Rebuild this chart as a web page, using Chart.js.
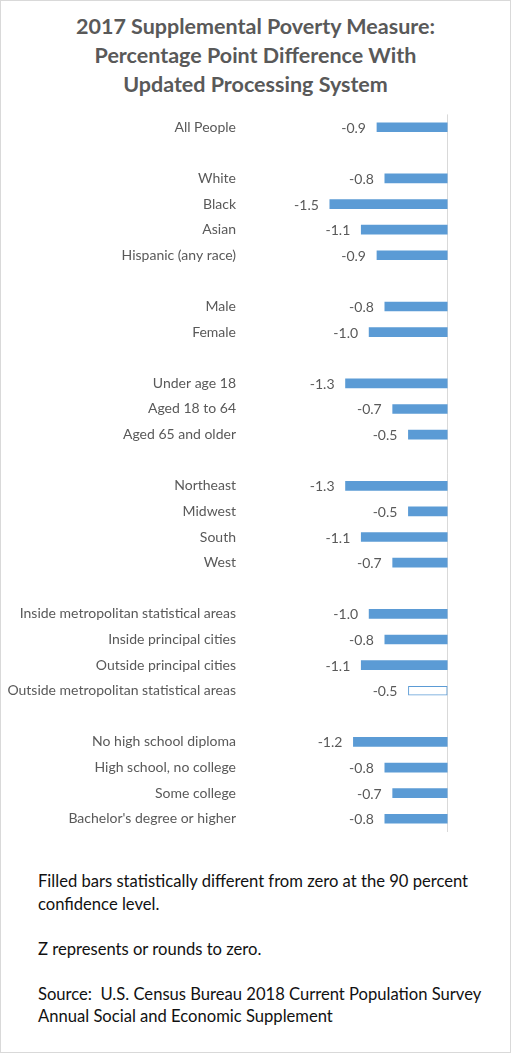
<!DOCTYPE html>
<html>
<head>
<meta charset="utf-8">
<script src="https://cdn.jsdelivr.net/npm/chart.js@4.4.1/dist/chart.umd.min.js"></script>
<style>
  body { margin: 0; background: #fff; }
  #wrap { position: relative; width: 511px; height: 1053px; box-sizing: border-box; border: 1px solid #d9d9d9; overflow: hidden; }
  #title { position: absolute; left: 0; top: 11px; width: 509px; text-align: center; font: bold 21.5px Lato, sans-serif; line-height: 29px; color: #595959; }
  #box { position: absolute; left: 0; top: 100px; width: 509px; height: 744px; }
  #notes { position: absolute; left: 37px; top: 869px; width: 456px; font: 16.6px Lato, sans-serif; line-height: 22.5px; color: #111; }
  #notes p { margin: 0 0 22.5px 0; }
</style>
</head>
<body>
<div id="wrap">
  <div id="title">2017 Supplemental Poverty Measure:<br>Percentage Point Difference With<br>Updated Processing System</div>
  <div id="box"><canvas id="chart"></canvas></div>
  <div id="notes">
    <p>Filled bars statistically different from zero at the 90 percent confidence level.</p>
    <p>Z represents or rounds to zero.</p>
    <p>Source:&nbsp; U.S. Census Bureau 2018 Current Population Survey Annual Social and Economic Supplement</p>
  </div>
</div>
<script>
// rows, blank strings are the gaps between groups
const categories = [
  'All People', '',
  'White', 'Black', 'Asian', 'Hispanic (any race)', '',
  'Male', 'Female', '',
  'Under age 18', 'Aged 18 to 64', 'Aged 65 and older', '',
  'Northeast', 'Midwest', 'South', 'West', '',
  'Inside metropolitan statistical areas', 'Inside principal cities', 'Outside principal cities', 'Outside metropolitan statistical areas', '',
  'No high school diploma', 'High school, no college', 'Some college', "Bachelor's degree or higher"
];
const diffs = [
  -0.9, null,
  -0.8, -1.5, -1.1, -0.9, null,
  -0.8, -1.0, null,
  -1.3, -0.7, -0.5, null,
  -1.3, -0.5, -1.1, -0.7, null,
  -1.0, -0.8, -1.1, -0.5, null,
  -1.2, -0.8, -0.7, -0.8
];
// false = not statistically different from zero (hollow bar)
const significant = [
  true, null,
  true, true, true, true, null,
  true, true, null,
  true, true, true, null,
  true, true, true, true, null,
  true, true, true, false, null,
  true, true, true, true
];

const blue = '#5b9bd5';

// value labels to the left of each bar
const valueLabels = {
  id: 'valueLabels',
  afterDatasetsDraw(chart) {
    const ctx = chart.ctx;
    const meta = chart.getDatasetMeta(0);
    ctx.save();
    ctx.font = '14px Lato, sans-serif';
    ctx.fillStyle = '#595959';
    ctx.textAlign = 'right';
    ctx.textBaseline = 'middle';
    meta.data.forEach((bar, i) => {
      if (diffs[i] === null) return;
      ctx.fillText(diffs[i].toFixed(1), bar.x - 11, bar.y + 1);
    });
    ctx.restore();
  }
};

new Chart(document.getElementById('chart'), {
  type: 'bar',
  data: {
    labels: categories,
    datasets: [{
      data: diffs,
      backgroundColor: significant.map(s => s === false ? '#ffffff' : blue),
      borderColor: blue,
      borderWidth: significant.map(s => s === false ? 1 : 0),
      borderSkipped: false,
      barThickness: 9
    }]
  },
  options: {
    indexAxis: 'y',
    responsive: true,
    maintainAspectRatio: false,
    animation: false,
    layout: { padding: { top: 0, bottom: 0, left: 0, right: 23 } },
    plugins: { legend: { display: false }, tooltip: { enabled: false } },
    scales: {
      x: {
        min: -2.63,
        max: 0.5,
        ticks: { display: false },
        border: { display: false },
        grid: {
          drawTicks: false,
          color: c => c.tick && c.tick.value === 0 ? '#d9d9d9' : 'rgba(0,0,0,0)',
          lineWidth: 1
        }
      },
      y: {
        afterFit: s => { s.width = 240; },
        border: { display: false },
        grid: { display: false, drawTicks: false },
        ticks: {
          padding: 5,
          autoSkip: false,
          color: '#595959',
          font: { family: 'Lato, sans-serif', size: 14 }
        }
      }
    }
  },
  plugins: [valueLabels]
});
</script>
</body>
</html>
